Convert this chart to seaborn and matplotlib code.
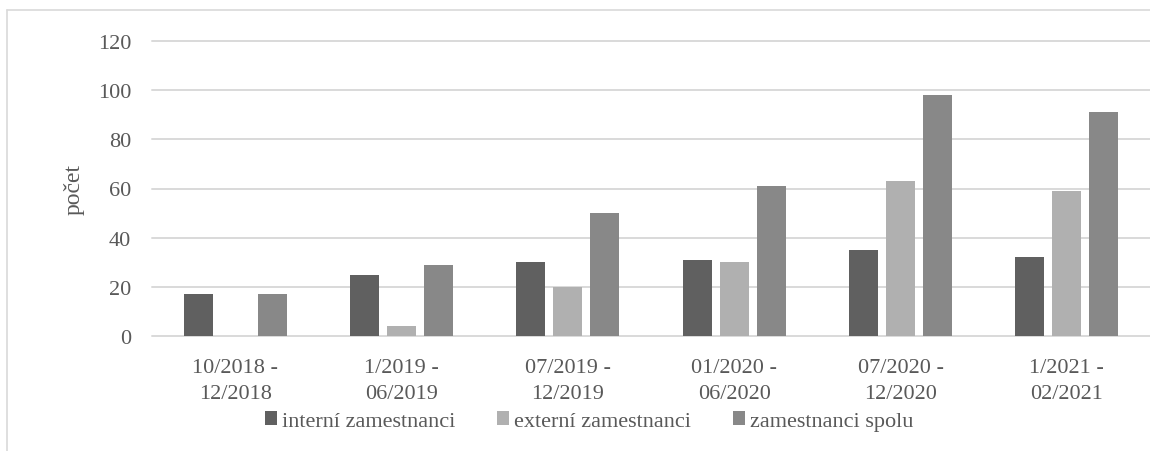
import numpy as np
import pandas as pd
import seaborn as sns
import matplotlib.pyplot as plt
from matplotlib.lines import Line2D
from matplotlib.patches import Patch

categories = ["10/2018 -\n12/2018", "1/2019 -\n06/2019", "07/2019 -\n12/2019",
              "01/2020 -\n06/2020", "07/2020 -\n12/2020", "1/2021 -\n02/2021"]
interni = [17, 25, 30, 31, 35, 32]
externi = [0, 4, 20, 30, 63, 59]
spolu = [17, 29, 50, 61, 98, 91]
series = ["interní zamestnanci", "externí zamestnanci", "zamestnanci spolu"]
colors = ["#606060", "#b0b0b0", "#888888"]
yticks = [0, 20, 40, 60, 80, 100, 120]

df = pd.DataFrame({
    "obdobie": categories * 3,
    "počet": interni + externi + spolu,
    "skupina": [s for s in series for _ in categories],
})

sns.set_theme(style="white")
plt.rcParams['font.family'] = ['Liberation Serif', 'DejaVu Serif']
txt = "#595959"
grid = "#d9d9d9"
fs = 16

W, H = 1150, 452
fig = plt.figure(figsize=(W / 100, H / 100), dpi=100)
ax = fig.add_axes([152 / W, 1 - 337 / H, 998 / W, (337 - 42) / H])

sns.barplot(data=df, x="obdobie", y="počet", hue="skupina", hue_order=series,
            palette=colors, width=0.667, gap=0.216, saturation=1, linewidth=0,
            legend=False, ax=ax)

ax.set_ylim(0, 120)
ax.set_xlim(-0.5, len(categories) - 0.5)
ax.set_yticks(yticks)
ax.yaxis.grid(True, color=grid, linewidth=1.4)
ax.xaxis.grid(False)
ax.set_axisbelow(True)
for l in ax.get_ygridlines():
    l.set_clip_on(False)
for s in ax.spines.values():
    s.set_visible(False)

ax.tick_params(axis="y", length=0, pad=15, labelsize=fs, labelcolor=txt)
ax.tick_params(axis="x", length=0, pad=16, labelsize=fs, labelcolor=txt)
for t in ax.get_xticklabels():
    t.set_multialignment("center")
    t.set_linespacing(1.45)

ax.set_xlabel("")
ax.set_ylabel("počet", fontsize=17, color=txt)
ax.yaxis.set_label_coords(-0.068, 0.5)

handles = [Patch(facecolor=c, edgecolor="none") for c in colors]
fig.legend(handles, series, loc="center", bbox_to_anchor=(589 / W, 1 - 422 / H),
           ncol=3, frameon=False, fontsize=fs, handlelength=0.55, handleheight=0.55,
           handletextpad=0.2, columnspacing=1.9, labelcolor=txt)

fig.add_artist(Line2D([7 / W, 1], [1 - 11 / H] * 2, color=grid, lw=1.2,
                      transform=fig.transFigure))
fig.add_artist(Line2D([7 / W, 7 / W], [0, 1 - 11 / H], color=grid, lw=1.2,
                      transform=fig.transFigure))

fig.savefig("out.png", dpi=100)
